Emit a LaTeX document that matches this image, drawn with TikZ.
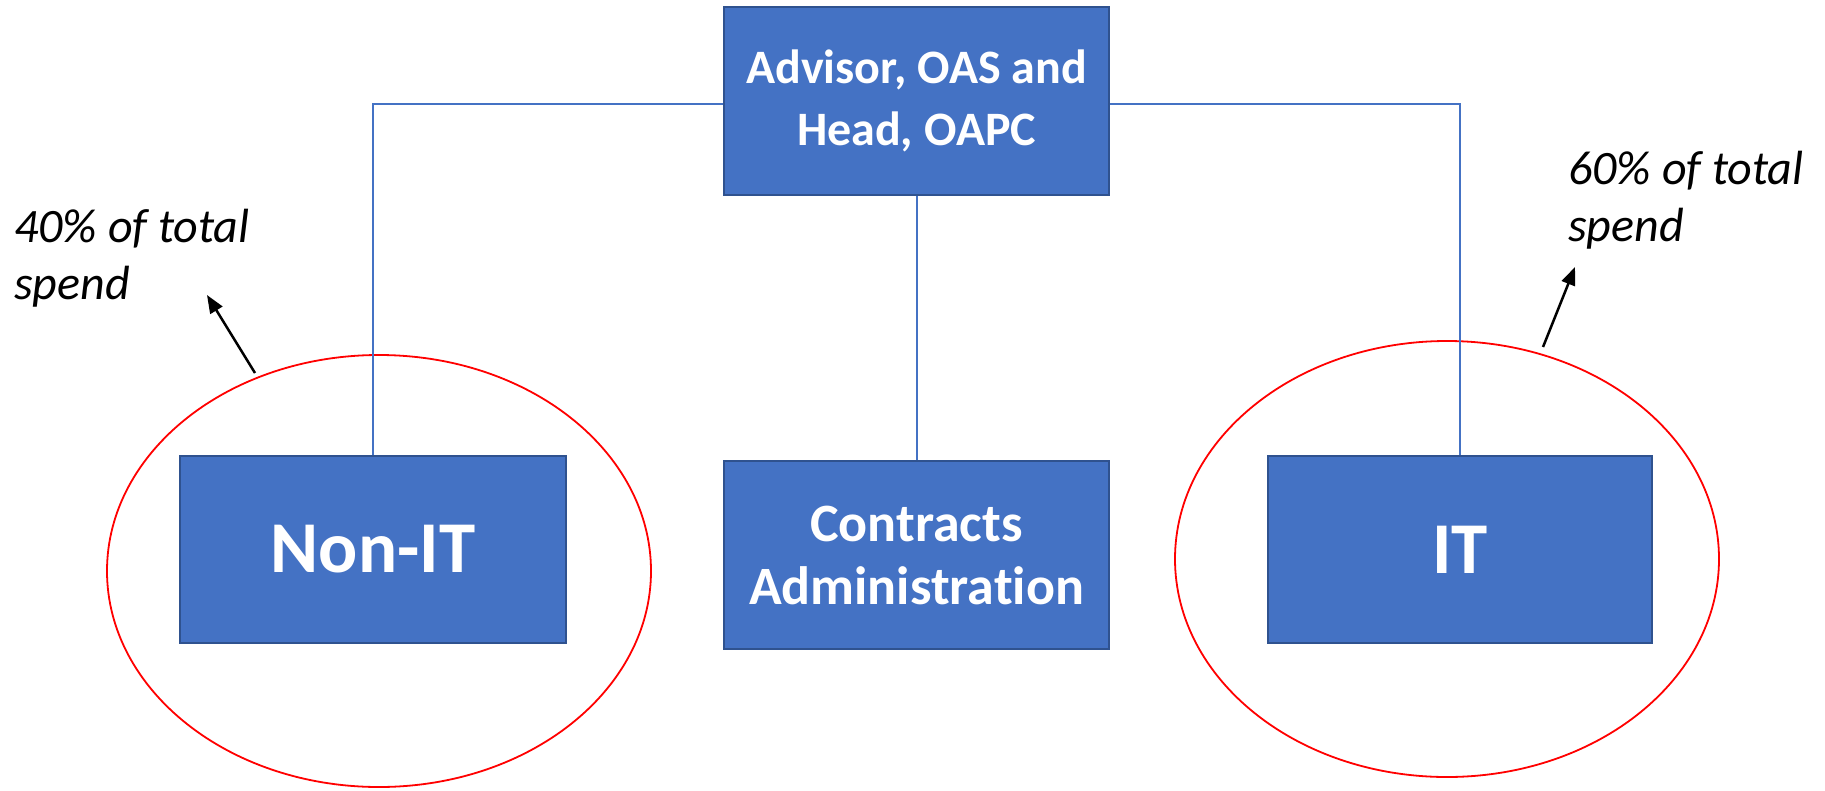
\documentclass[tikz,border=0pt]{standalone}
\usepackage{fontspec}
\setmainfont{Carlito}[Ligatures={NoCommon}]
\usetikzlibrary{arrows.meta,shapes.geometric}
\definecolor{boxblue}{HTML}{4472C4}
\definecolor{boxedge}{HTML}{2F528F}
\tikzset{
  unit/.style={rectangle, fill=boxblue, draw=boxedge, line width=2pt, text=white, font=\bfseries, align=center, inner sep=0pt},
  link/.style={draw=boxblue, line width=2pt},
  ring/.style={draw=red, line width=1.8pt},
  note/.style={font=\itshape\fontsize{48}{57}\selectfont, align=left, inner sep=0pt, anchor=north west},
  pointer/.style={line width=2.5pt, -{Triangle[length=18pt,width=14pt]}}
}
\begin{document}
\begin{tikzpicture}[x=1pt,y=-1pt]
\useasboundingbox (0,0) rectangle (1825,790);
% ellipses
\draw[ring] (379,571) ellipse [x radius=272, y radius=216];
\draw[ring] (1447,559) ellipse [x radius=272, y radius=218];
% boxes
\node[unit, minimum width=385pt, minimum height=188pt, font=\bfseries\fontsize{48}{62}\selectfont] (top) at (916.5,101) {Advisor, OAS and\\Head, OAPC};
\node[unit, minimum width=386pt, minimum height=187pt, font=\bfseries\fontsize{73}{80}\selectfont] (nonit) at (373,549.5) {Non-IT};
\node[unit, minimum width=385pt, minimum height=188pt, font=\bfseries\fontsize{54}{63}\selectfont] (contracts) at (916.5,555) {Contracts\\Administration};
\node[unit, minimum width=384pt, minimum height=187pt, font=\bfseries\fontsize{73}{80}\selectfont] (it) at (1460,549.5) {IT};
% connectors
\draw[link] ([yshift=-3pt]top.west) -| (nonit.north);
\draw[link] ([yshift=-3pt]top.east) -| (it.north);
\draw[link] (top.south) -- (contracts.north);
% notes
\node[note] (leftnote) at (14,209) {40\% of total\\spend};
\node[note] (rightnote) at (1568,151) {60\% of total\\spend};
\coordinate (la) at (255,373);
\coordinate (lb) at (207,295);
\coordinate (ra) at (1543,347);
\coordinate (rb) at (1575,267);
\draw[pointer] (la) -- (lb);
\draw[pointer] (ra) -- (rb);
\end{tikzpicture}
\end{document}
